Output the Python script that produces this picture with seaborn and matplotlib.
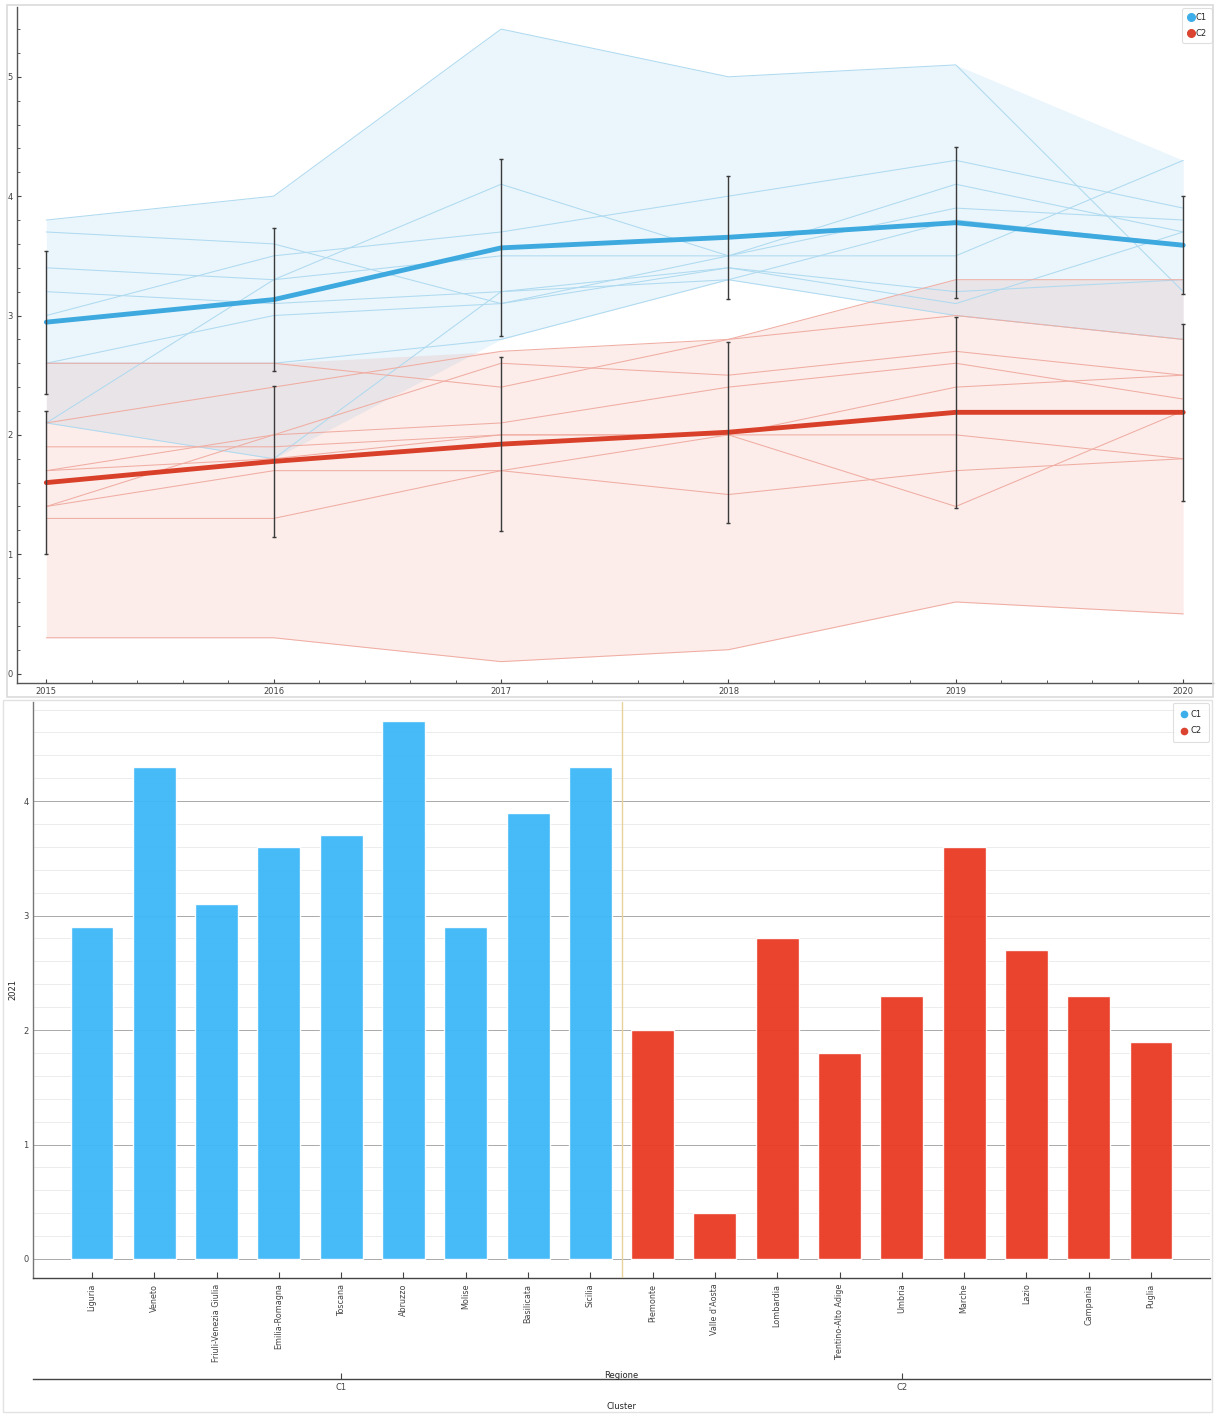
import numpy as np
import pandas as pd
import matplotlib
matplotlib.use("Agg")
import matplotlib.pyplot as plt
import seaborn as sns
from matplotlib.lines import Line2D
from matplotlib.patches import Rectangle
from matplotlib.ticker import MultipleLocator

# ---------------- data ----------------
years = [2015, 2016, 2017, 2018, 2019, 2020]

c1_regions = ["Liguria", "Veneto", "Friuli-Venezia Giulia", "Emilia-Romagna",
              "Toscana", "Abruzzo", "Molise", "Basilicata", "Sicilia"]
c2_regions = ["Piemonte", "Valle d'Aosta", "Lombardia", "Trentino-Alto Adige",
              "Umbria", "Marche", "Lazio", "Campania", "Puglia"]

# values 2015..2020, cluster C1
liguria    = [2.6, 2.6, 2.8, 3.3, 3.0, 2.8]
veneto     = [3.0, 3.5, 3.7, 4.0, 4.3, 3.9]
friuli     = [3.2, 3.1, 3.2, 3.4, 3.2, 3.3]
emilia     = [2.6, 3.0, 3.1, 3.4, 3.1, 3.7]
toscana    = [3.7, 3.6, 3.1, 3.5, 3.9, 3.8]
abruzzo    = [3.8, 4.0, 5.4, 5.0, 5.1, 3.2]
molise     = [2.1, 1.8, 3.2, 3.3, 3.8, 3.6]
basilicata = [3.4, 3.3, 3.5, 3.5, 3.5, 4.3]
sicilia    = [2.1, 3.3, 4.1, 3.5, 4.1, 3.7]

# values 2015..2020, cluster C2
piemonte   = [1.9, 1.9, 2.0, 2.0, 2.4, 2.5]
valle      = [0.3, 0.3, 0.1, 0.2, 0.6, 0.5]
lombardia  = [2.1, 2.4, 2.7, 2.8, 3.0, 2.8]
trentino   = [1.3, 1.3, 1.7, 1.5, 1.7, 1.8]
umbria     = [1.4, 2.0, 2.1, 2.4, 2.6, 2.3]
marche     = [2.6, 2.6, 2.4, 2.8, 3.3, 3.3]
lazio      = [1.7, 2.0, 2.6, 2.5, 2.7, 2.5]
campania   = [1.7, 1.8, 2.0, 2.0, 1.4, 2.2]
puglia     = [1.4, 1.7, 1.7, 2.0, 2.0, 1.8]

c1_series = [liguria, veneto, friuli, emilia, toscana, abruzzo, molise, basilicata, sicilia]
c2_series = [piemonte, valle, lombardia, trentino, umbria, marche, lazio, campania, puglia]

# 2021 bar values
c1_2021 = [2.9, 4.3, 3.1, 3.6, 3.7, 4.7, 2.9, 3.9, 4.3]
c2_2021 = [2.0, 0.4, 2.8, 1.8, 2.3, 3.6, 2.7, 2.3, 1.9]

clusters = ["C1", "C2"]

# ---------------- tables ----------------
rows = []
for cl, regs, sers in [("C1", c1_regions, c1_series), ("C2", c2_regions, c2_series)]:
    for r, s in zip(regs, sers):
        for y, v in zip(years, s):
            rows.append({"cluster": cl, "region": r, "year": y, "value": v})
df = pd.DataFrame(rows)

bar_df = pd.DataFrame({
    "region": c1_regions + c2_regions,
    "value": c1_2021 + c2_2021,
    "cluster": ["C1"] * len(c1_regions) + ["C2"] * len(c2_regions),
})

# ---------------- style ----------------
sns.set_theme(style="white")
plt.rcParams["font.family"] = ["DejaVu Sans"]
plt.rcParams["axes.edgecolor"] = "#555555"
plt.rcParams["xtick.color"] = "#444444"
plt.rcParams["ytick.color"] = "#444444"

mean_col = {"C1": "#3DA9DF", "C2": "#D9402A"}
band_col = {"C1": "#3DAEE9", "C2": "#E8553E"}
thin_col = {"C1": "#AFDAF0", "C2": "#F0ADA3"}
bar_col = {"C1": "#3DB8F7", "C2": "#E93A24"}
leg_col = {"C1": "#3DAEE9", "C2": "#DA4430"}

W, H = 1215, 1415
fig = plt.figure(figsize=(W / 100, H / 100), dpi=100)

# panel frames
fig.add_artist(Rectangle((7 / W, 1 - 697 / H), 1206 / W, 692 / H, transform=fig.transFigure,
                         fill=False, edgecolor="#DADADA", lw=1.2))
fig.add_artist(Rectangle((3 / W, 1 - 1412 / H), 1209 / W, 712 / H, transform=fig.transFigure,
                         fill=False, edgecolor="#E2E2E2", lw=1.0))

ax1 = fig.add_axes([17 / W, 1 - 683 / H, 1196 / W, 676 / H])
ax2 = fig.add_axes([33 / W, 1 - 1278 / H, 1177 / W, 576 / H])


def sd_pop(v):
    m = v.mean()
    s = v.std(ddof=0)
    return (m - s, m + s)


# ---------------- top chart ----------------
for cl in clusters:
    sub = df[df.cluster == cl]
    sns.lineplot(data=sub, x="year", y="value", estimator="mean", errorbar=("pi", 100),
                 err_style="band", lw=0, color=band_col[cl],
                 err_kws=dict(alpha=0.105, lw=0), ax=ax1, legend=False)
for cl in clusters:
    sub = df[df.cluster == cl]
    sns.lineplot(data=sub, x="year", y="value", units="region", estimator=None,
                 color=thin_col[cl], lw=0.75, ax=ax1, legend=False)
for cl in clusters:
    sub = df[df.cluster == cl]
    sns.lineplot(data=sub, x="year", y="value", estimator="mean", errorbar=sd_pop,
                 err_style="bars", color=mean_col[cl], lw=3.5,
                 err_kws=dict(ecolor="#3a3a3a", elinewidth=1.0, capsize=1.5, capthick=1.0),
                 ax=ax1, legend=False)

ax1.set_xlim(2014.871, 2020.131)
ax1.set_ylim(-0.079, 5.585)
ax1.set_xticks(years)
ax1.set_xticklabels([str(y) for y in years])
ax1.xaxis.set_minor_locator(MultipleLocator(0.2))
ax1.yaxis.set_major_locator(MultipleLocator(1))
ax1.yaxis.set_minor_locator(MultipleLocator(0.2))
ax1.tick_params(which="major", direction="in", length=3, width=0.8, labelsize=6, pad=3)
ax1.tick_params(which="minor", direction="in", length=2, width=0.6)
ax1.tick_params(axis="x", which="both", bottom=True)
ax1.tick_params(axis="y", which="both", left=True)
ax1.set_xlabel("")
ax1.set_ylabel("")
for s in ["top", "right"]:
    ax1.spines[s].set_visible(False)
for s in ["left", "bottom"]:
    ax1.spines[s].set_color("#555555")
    ax1.spines[s].set_linewidth(1.0)

handles = [Line2D([], [], marker="o", ls="", color=leg_col[c], markersize=5.5, label=c) for c in clusters]
leg = ax1.legend(handles=handles, loc="upper right", bbox_to_anchor=(1.0, 1.0), fontsize=6,
                 frameon=True, fancybox=True, edgecolor="#D8D8D8", handletextpad=0.05,
                 borderpad=0.6, labelspacing=0.75, handlelength=1.0, borderaxespad=0.15)
leg.get_frame().set_linewidth(0.8)

# ---------------- bottom chart ----------------
sns.barplot(data=bar_df, x="region", y="value", hue="cluster", palette=bar_col, dodge=False,
            width=0.69, saturation=1, alpha=0.95, ax=ax2, legend=False)

ax2.set_xlim(-0.947, 17.947)
ax2.set_ylim(-0.166, 4.866)
ax2.yaxis.set_major_locator(MultipleLocator(1))
ax2.yaxis.set_minor_locator(MultipleLocator(0.2))
ax2.grid(which="major", axis="y", color="#A9A9A9", lw=0.7)
ax2.grid(which="minor", axis="y", color="#ECECEC", lw=0.7)
ax2.set_axisbelow(True)
ax2.axvline(8.5, color="#E6D29A", lw=1.0, zorder=3)

ax2.set_xticks(range(len(bar_df)))
ax2.set_xticklabels(bar_df["region"], rotation=90, fontsize=5.8)
ax2.tick_params(axis="x", direction="in", length=4, width=0.8, pad=4, bottom=True)
ax2.tick_params(axis="y", which="major", direction="in", length=0, labelsize=6, pad=3, left=True)
ax2.tick_params(axis="y", which="minor", length=0)
for s in ["top", "right"]:
    ax2.spines[s].set_visible(False)
ax2.spines["left"].set_color("#777777")
ax2.spines["bottom"].set_color("#444444")
ax2.spines["left"].set_linewidth(1.0)
ax2.spines["bottom"].set_linewidth(1.0)

ax2.set_ylabel("2021", fontsize=6)
ax2.yaxis.set_label_coords(-0.013, 0.5)
ax2.set_xlabel("Regione", fontsize=6)
ax2.xaxis.set_label_coords(0.5, -0.1615)

sec = ax2.secondary_xaxis(-0.175)
sec.set_xticks([4, 13])
sec.set_xticklabels(["C1", "C2"], fontsize=6)
sec.tick_params(direction="in", length=4, width=0.8, pad=3)
sec.spines["bottom"].set_color("#444444")
sec.spines["bottom"].set_linewidth(1.0)
sec.set_xlabel("Cluster", fontsize=6, labelpad=7)

handles2 = [Line2D([], [], marker="o", ls="", color=leg_col[c], markersize=4.5, label=c) for c in clusters]
leg2 = ax2.legend(handles=handles2, loc="upper right", bbox_to_anchor=(1.0, 1.0), fontsize=6,
                  frameon=True, fancybox=True, edgecolor="#D8D8D8", handletextpad=0.2,
                  borderpad=0.8, labelspacing=0.9, handlelength=1.2, borderaxespad=0.15)
leg2.get_frame().set_linewidth(0.8)

fig.savefig("out.png", dpi=100)
